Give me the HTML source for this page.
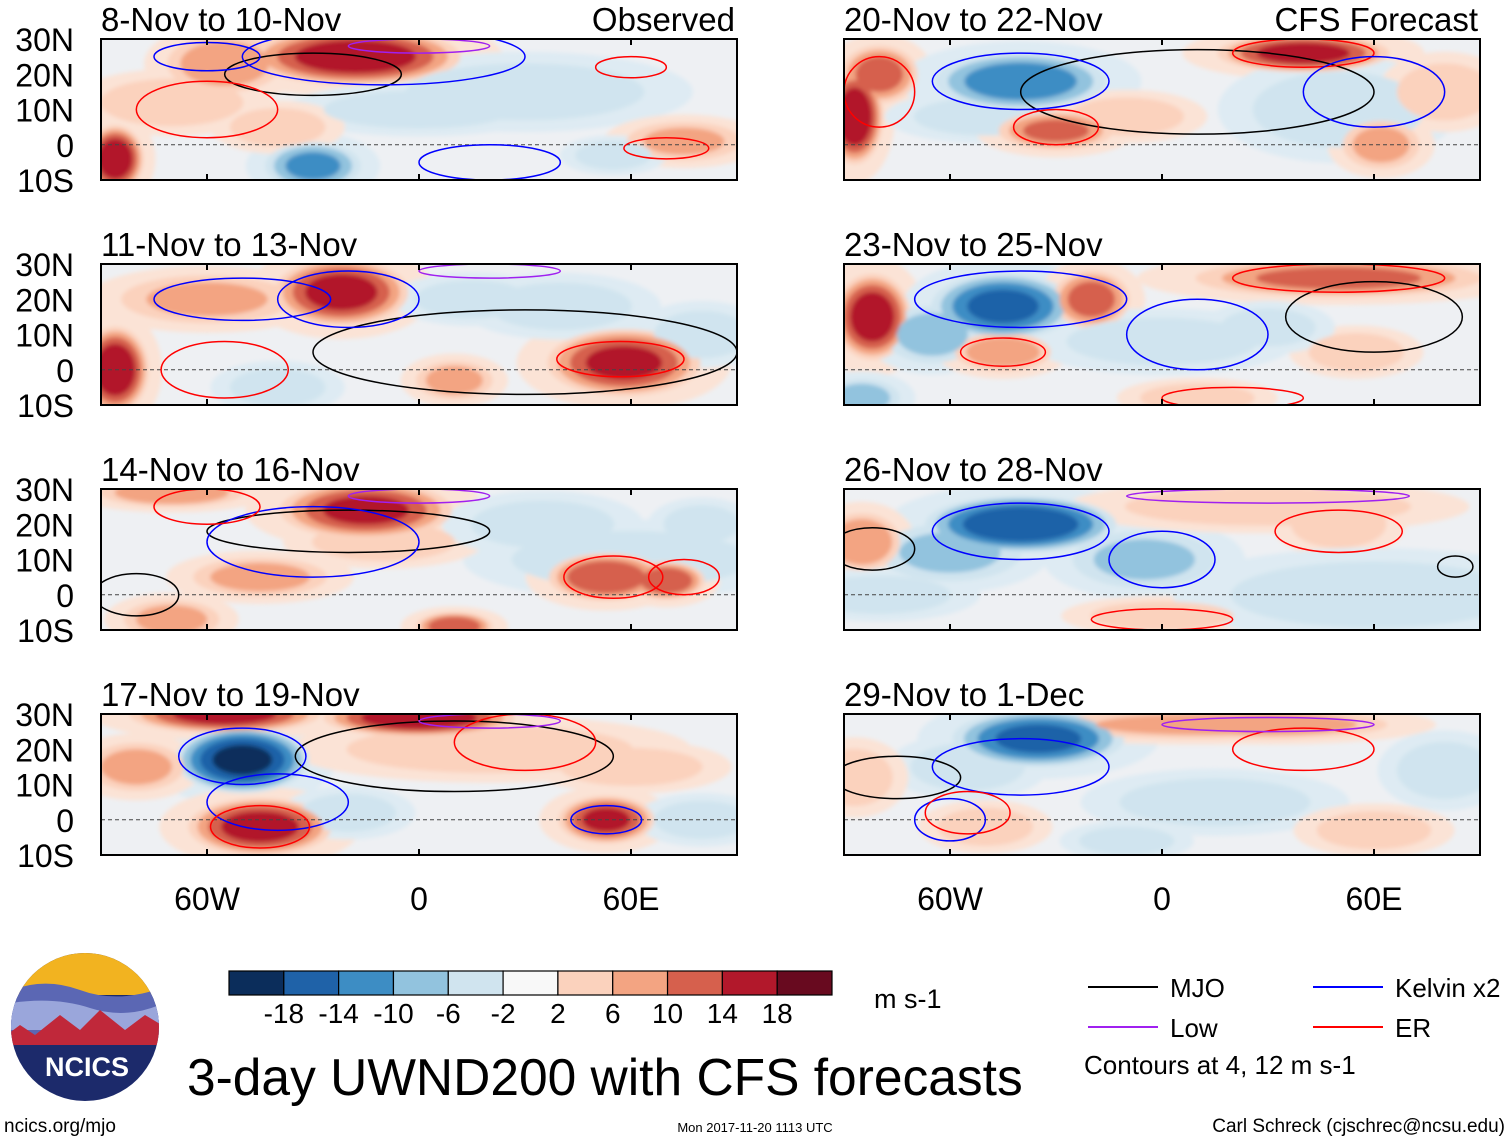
<!DOCTYPE html>
<html><head><meta charset="utf-8"><style>
body{margin:0;background:#fff;width:1510px;height:1142px;overflow:hidden;font-family:"Liberation Sans",sans-serif}
svg text{font-family:"Liberation Sans",sans-serif}
</style></head><body>
<svg id="fig" width="1510" height="1142" viewBox="0 0 1510 1142">
<defs><filter id="bl" x="-30%" y="-30%" width="160%" height="160%"><feGaussianBlur stdDeviation="2"/></filter></defs>
</svg>
<script>
const levels=[-18,-14,-10,-6,-2,2,6,10,14,18];
const colors=["#0b2d5b","#1f62a8","#3d8dc4","#92c3de","#d0e4ef","#f8f8f8","#fbd2bd","#f3a482","#d6604d","#b2182b","#680a1f"];
const titles=["8-Nov to 10-Nov","11-Nov to 13-Nov","14-Nov to 16-Nov","17-Nov to 19-Nov","20-Nov to 22-Nov","23-Nov to 25-Nov","26-Nov to 28-Nov","29-Nov to 1-Dec"];
const latTicks=["30N","20N","10N","0","10S"];
const lonTicks=["60W","0","60E"];
const lonTickVals=[-60,0,60];
const legendLevels=["-18","-14","-10","-6","-2","2","6","10","14","18"];
// blobs per panel: [lon, lat, rxDeg, ryDeg, value]
const blobs0=[[-18,25,22,6,17],[-55,23,12,6,9],[-86,-4,6,7,18],[-30,-6,10,5,-11],[30,15,25,6,-5],[0,10,20,4,-3],[75,1,12,4,7],[-70,12,15,5,5],[55,-3,8,3,-5],[-40,5,10,4,4]];
const blobs1=[[-22,22,14,7,16],[-86,0,7,9,18],[58,2,16,7,15],[-60,20,18,5,7],[10,-3,8,4,8],[40,18,15,5,-6],[15,20,12,4,-4],[-40,-5,10,4,-3],[80,10,10,5,-3]];
const blobs2=[[-15,24,18,6,15],[60,10,25,6,-6],[53,5,12,5,14],[70,4,8,4,14],[-45,5,14,4,8],[-10,15,15,4,5],[10,-9,8,3,14],[-70,-7,10,4,8],[35,20,15,5,-5],[80,20,8,4,-5],[-70,29,15,3,10]];
const blobs3=[[-50,17,14,7,-19],[-45,-2,15,6,16],[-55,30,20,4,16],[0,29,20,4,18],[53,0,10,5,15],[-80,15,10,5,8],[20,20,30,5,6],[-20,2,10,4,-5],[80,0,10,4,-3],[60,15,15,4,4]];
const blobs4=[[-87,8,6,10,18],[-80,20,8,6,12],[-40,18,18,6,-13],[-50,8,15,4,-4],[40,26,18,4,16],[-30,4,12,4,11],[-10,8,12,4,6],[50,10,18,8,-4],[62,0,8,5,8],[80,15,10,6,5]];
const blobs5=[[-82,15,8,9,17],[-45,18,15,7,-15],[-65,10,10,6,-8],[-20,20,8,6,12],[50,26,30,4,11],[-45,5,10,4,9],[0,8,20,5,-4],[-85,-8,8,4,-8],[10,-8,12,3,6],[55,5,10,4,4],[30,12,10,4,-3]];
const blobs6=[[-40,20,20,6,-18],[-60,12,15,6,-7],[-5,10,15,6,-7],[-85,15,8,6,10],[30,25,30,4,6],[50,20,10,5,5],[0,-6,15,3,6],[60,0,30,7,-4],[-80,0,15,4,-5]];
const blobs7=[[-35,23,18,6,-15],[-55,15,12,5,-6],[10,27,30,3,7],[30,27,25,3,8],[80,14,10,6,-5],[-87,12,8,6,6],[-50,-2,10,4,6],[15,5,20,5,-4],[60,-3,12,4,5],[-10,-6,10,3,-3]];
const blobSets=[blobs0,blobs1,blobs2,blobs3,blobs4,blobs5,blobs6,blobs7];
// contours: [lon, lat, rxDeg, ryDeg, kind] kind 0 MJO,1 Low,2 Kelvin,3 ER
const cont=[
[[-30,20,25,6,0],[-60,25,15,4,2],[20,-5,20,5,2],[-10,25,40,8,2],[70,-1,12,3,3],[-60,10,20,8,3],[60,22,10,3,3],[0,28,20,2,1]],
[[30,5,60,12,0],[-50,20,25,6,2],[-20,20,20,8,2],[57,3,18,5,3],[-55,0,18,8,3],[20,28,20,2,1]],
[[-20,18,40,6,0],[-30,15,30,10,2],[55,5,14,6,3],[75,5,10,5,3],[-80,0,12,6,0],[-60,25,15,5,3],[0,28,20,2,1]],
[[10,18,45,10,0],[-40,5,20,8,2],[-50,18,18,8,2],[53,0,10,4,2],[30,22,20,8,3],[-45,-2,14,6,3],[20,28,20,2,1]],
[[10,15,50,12,0],[-40,18,25,8,2],[-30,5,12,5,3],[40,26,20,4,3],[-80,15,10,10,3],[60,15,20,10,2]],
[[60,15,25,10,0],[-40,20,30,8,2],[10,10,20,10,2],[50,26,30,4,3],[-45,5,12,4,3],[20,-8,20,3,3]],
[[-82,13,12,6,0],[-40,18,25,8,2],[0,10,15,8,2],[50,18,18,6,3],[30,28,40,2,1],[0,-7,20,3,3],[83,8,5,3,0]],
[[-75,12,18,6,0],[-40,15,25,8,2],[-60,0,10,6,2],[40,20,20,6,3],[30,27,30,2,1],[-55,2,12,6,3]]];
const kindCol=["#000","#a020f0","#0000ff","#ff0000"];
const svg=document.getElementById('fig');const NS="http://www.w3.org/2000/svg";
function mk(t,a,p){const e=document.createElementNS(NS,t);for(const k in a)e.setAttribute(k,a[k]);(p||svg).appendChild(e);return e;}
function colorFor(v){let i=0;while(i<levels.length&&v>levels[i])i++;return colors[i];}
const W=636,H=141;
function panelOrigin(i){return [i<4?101:844,[39,264,489,714][i%4]];}
blobSets.forEach((bs,i)=>{
 const [x0,y0]=panelOrigin(i);
 const X=lon=>x0+(lon+90)*W/180, Y=lat=>y0+(30-lat)*H/40;
 const g=mk('g',{});
 
 
 const cpth=mk('clipPath',{id:'c'+i},g);
 mk('rect',{x:x0,y:y0,width:W,height:H},cpth);
 const inner=mk('g',{'clip-path':'url(#c'+i+')'},g);
 mk('rect',{x:x0,y:y0,width:W,height:H,fill:'#eef0f3'},inner);
 const bg=mk('g',{filter:'url(#bl)'},inner);
 bs.forEach(b=>{
  const [lon,lat,rx,ry,v]=b;const s=Math.sign(v);
  const h=mk('ellipse',{cx:X(lon),cy:Y(lat),rx:rx*1.9*W/180,ry:ry*1.9*H/40,fill:s>0?'#fbe3d6':'#deebf3'},bg);
  
  
 });
 const shades=[];
 bs.forEach(b=>{
  const [lon,lat,rx,ry,v]=b;const a=Math.abs(v),s=Math.sign(v);
  for(let l=2;l<a;l+=4){
   const f=Math.sqrt(1-(l-2)/(a+1));
   shades.push([l,lon,lat,rx*f,ry*f,s]);
  }
 });
 shades.sort((p,q)=>p[0]-q[0]);
 shades.forEach(sh=>{
  const el=mk('ellipse',{cx:X(sh[1]),cy:Y(sh[2]),rx:sh[3]*1.35*W/180,ry:sh[4]*1.35*H/40,fill:colorFor(sh[5]*(sh[0]+1))},bg);
  
  
 });
 mk('line',{x1:x0,x2:x0+W,y1:Y(0),y2:Y(0),stroke:'#444','stroke-dasharray':'4,3','stroke-width':1},inner);
 cont[i].forEach(c=>{
  const el=mk('ellipse',{cx:X(c[0]),cy:Y(c[1]),rx:c[2]*W/180,ry:c[3]*H/40,fill:'none',stroke:kindCol[c[4]],'stroke-width':1.5},inner);
  
  
 });
 mk('rect',{x:x0,y:y0,width:W,height:H,fill:'none',stroke:'#000','stroke-width':2},g);
 lonTickVals.forEach(l=>{mk('line',{x1:X(l),x2:X(l),y1:y0+H,y2:y0+H-6,stroke:'#000','stroke-width':2},g);mk('line',{x1:X(l),x2:X(l),y1:y0,y2:y0+6,stroke:'#000','stroke-width':2},g);});
 const t=mk('text',{x:x0,y:y0-8,'font-size':33},g);t.textContent=titles[i];
 
 if(i==0||i==4){const t2=mk('text',{x:x0+W-2,y:y0-8,'font-size':33,'text-anchor':'end'},g);t2.textContent=i==0?'Observed':'CFS Forecast';
  }
 if(i<4){latTicks.forEach((lt,k)=>{const tt=mk('text',{x:74,y:y0+k*H/4+12,'font-size':32,'text-anchor':'end'},g);tt.textContent=lt;
  });}
 if(i%4==3){lonTickVals.forEach((l,k)=>{const tt=mk('text',{x:X(l),y:910,'font-size':32,'text-anchor':'middle'},g);tt.textContent=lonTicks[k];
  });}
});
// colorbar
const cb=mk('g',{});

const bw=603/colors.length;
colors.forEach((c,k)=>mk('rect',{x:229+k*bw,y:971,width:bw,height:24,fill:c,stroke:'#000','stroke-width':1.2},cb));
legendLevels.forEach((l,k)=>{const t=mk('text',{x:229+(k+1)*bw,y:1023,'font-size':28,'text-anchor':'middle'},cb);t.textContent=l;});
const u=mk('text',{x:874,y:1008,'font-size':27},cb);u.textContent='m s-1';
// legend
const lg=mk('g',{});
[["MJO",1088,987,0],["Low",1088,1027,1],["Kelvin x2",1313,987,2],["ER",1313,1027,3]].forEach(e=>{
 mk('line',{x1:e[1],x2:e[1]+70,y1:e[2],y2:e[2],stroke:kindCol[e[3]],'stroke-width':2},lg);
 const t=mk('text',{x:e[1]+82,y:e[2]+10,'font-size':26},lg);t.textContent=e[0];});
const ct=mk('text',{x:1084,y:1074,'font-size':26},lg);ct.textContent='Contours at 4, 12 m s-1';
// logo
const lo=mk('g',{});
const lcp=mk('clipPath',{id:'lc'},lo);mk('circle',{cx:85,cy:1027,r:74},lcp);
const lg2=mk('g',{'clip-path':'url(#lc)'},lo);
mk('rect',{x:0,y:950,width:170,height:160,fill:'#1c2a6b'},lg2);
mk('rect',{x:0,y:950,width:170,height:45,fill:'#f2b320'},lg2);
mk('path',{d:'M0 995 Q40 975 80 990 T170 985 L170 1040 L0 1040Z',fill:'#5b67b4'},lg2);
mk('path',{d:'M0 1005 Q50 995 90 1008 T170 1000 L170 1030 L0 1030Z',fill:'#9aa6db'},lg2);
mk('path',{d:'M0 1040 L20 1025 L35 1035 L60 1015 L80 1030 L100 1010 L125 1030 L145 1015 L170 1030 L170 1045 L0 1045Z',fill:'#c0283a'},lg2);
const lt=mk('text',{x:87,y:1076,'font-size':27,'font-weight':'bold',fill:'#fff','text-anchor':'middle'},lo);lt.textContent='NCICS';
const mt=mk('text',{x:187,y:1095,'font-size':51.5},svg);mt.textContent='3-day UWND200 with CFS forecasts';

const f1=mk('text',{x:4,y:1132,'font-size':19},svg);f1.textContent='ncics.org/mjo';

const f2=mk('text',{x:755,y:1132,'font-size':13,'text-anchor':'middle'},svg);f2.textContent='Mon 2017-11-20 1113 UTC';

const f3=mk('text',{x:1505,y:1132,'font-size':19,'text-anchor':'end'},svg);f3.textContent='Carl Schreck (cjschrec@ncsu.edu)';

</script>
</body></html>
